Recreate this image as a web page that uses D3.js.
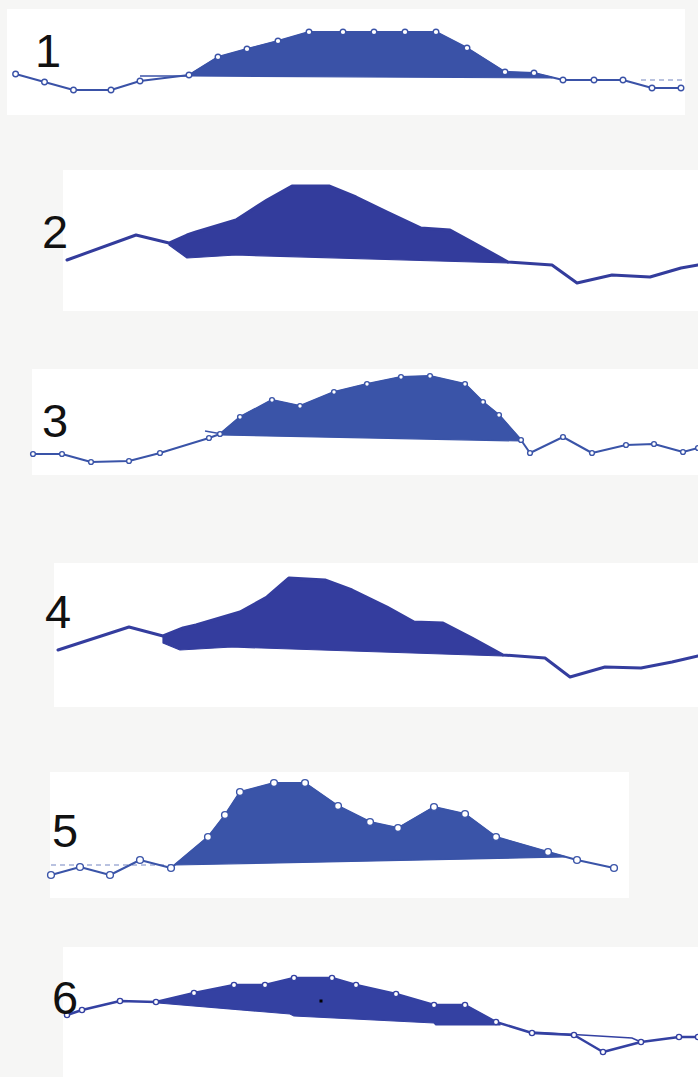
<!DOCTYPE html>
<html>
<head>
<meta charset="utf-8">
<script src="https://cdn.jsdelivr.net/npm/d3@7"></script>
<style>
  html, body { margin: 0; padding: 0; background: #f6f6f5; }
  svg { display: block; }
</style>
</head>
<body>
<svg id="fig" width="698" height="1077"></svg>
<script>
// Section numbers
const sectionLabels = ["1", "2", "3", "4", "5", "6"];

// Section 1: distance along transect and relative elevation
const dist1 = [1.56, 4.45, 7.35, 11.1, 14.0, 18.9, 21.8, 24.7, 27.8, 30.9, 34.3, 37.4, 40.5, 43.6, 46.7, 50.5, 53.4, 56.3, 59.4, 62.3, 65.2, 68.1];
const elev1 = [41, 33, 25, 25, 34, 40, 58, 66, 74, 83, 83, 83, 83, 83, 67, 43, 42, 35, 35, 35, 27, 27];
const baseDist1 = [18.9, 55.2];
const baseElev1 = [39, 37];

// Section 2
const dist2 = [6.7, 13.6, 16.9, 18.7, 19.6, 23.6, 26.7, 29.2, 32.9, 35.6, 38.7, 42.1, 45.0, 47.2, 50.8, 55.2, 57.7, 61.2, 65.0, 68.1, 69.8];
const elev2 = [51, 76, 68, 76, 79, 91, 111, 125, 125, 114, 99, 83, 81, 69, 49, 46, 28, 36, 34, 43, 46];
const baseDist2 = [16.9, 18.7, 23.6, 50.8];
const baseElev2 = [66, 53, 56, 48];

// Section 3
const dist3 = [3.3, 6.2, 9.1, 12.9, 16.0, 20.9, 22.0, 24.0, 27.2, 30.0, 33.4, 36.7, 40.1, 43.0, 46.5, 48.3, 49.9, 52.1, 53.0, 56.3, 59.2, 62.6, 65.4, 68.3, 69.8];
const elev3 = [21, 21, 13, 14, 22, 37, 41, 58, 75, 69, 83, 91, 98, 99, 91, 73, 60, 35, 22, 38, 22, 30, 31, 23, 27];
const baseDist3 = [22.0, 52.1];
const baseElev3 = [40, 34];

// Section 4
const dist4 = [5.8, 12.9, 16.3, 18.3, 19.6, 24.0, 26.7, 28.9, 32.5, 35.2, 38.7, 41.4, 44.3, 47.2, 50.3, 54.5, 57.0, 60.5, 64.1, 67.2, 69.8];
const elev4 = [57, 80, 71, 79, 82, 95, 110, 129, 127, 117, 100, 85, 84, 69, 52, 49, 30, 40, 39, 45, 51];
const baseDist4 = [16.3, 18.0, 23.2, 50.3];
const baseElev4 = [64, 57, 60, 51];

// Section 5
const dist5 = [5.1, 8.0, 11.0, 14.0, 17.1, 20.8, 22.5, 24.0, 27.4, 30.5, 33.8, 37.0, 39.8, 43.4, 46.5, 49.6, 54.8, 57.7, 61.4];
const elev5 = [23, 31, 23, 38, 30, 61, 83, 106, 115, 115, 92, 76, 70, 91, 84, 61, 46, 38, 30];
const baseDist5 = [17.5, 56.5];
const baseElev5 = [33, 41];

// Section 6
const dist6 = [6.7, 8.2, 12.0, 15.6, 19.4, 23.4, 26.5, 29.4, 33.2, 35.6, 39.6, 43.4, 46.5, 49.6, 53.2, 57.4, 60.3, 64.1, 67.9, 69.8];
const elev6 = [62, 67, 76, 75, 84, 92, 92, 99, 99, 92, 83, 72, 72, 55, 44, 42, 25, 35, 40, 40];
const baseDist6 = [15.8, 29.0, 29.4, 43.4, 43.6, 50.0];
const baseElev6 = [74, 63, 61, 54, 52, 52];
const branchDist6 = [53.2, 63.2, 64.1];
const branchElev6 = [45, 39, 35];
const spotDist6 = [32.1];
const spotElev6 = [76];

// Reference chords drawn beside the shaded bodies
const chordDist1 = [14.0, 18.9];
const chordElev1 = [39, 39];
const dashDist1 = [64.1, 68.4];
const dashElev1 = [35, 35];
const chordDist3 = [20.5, 22.2];
const chordElev3 = [44, 41];
const dashDist5 = [5.1, 17.5];
const dashElev5 = [33, 33];

const zip = (d, e) => d.map((v, i) => ({ d: v, e: e[i] }));

// Layout and styling for each section panel
const sections = [
  { label: sectionLabels[0], profile: zip(dist1, elev1), base: zip(baseDist1, baseElev1),
    rect: [7, 9, 678, 106], bottom: 115, lx: 35, ly: 67,
    color: "#3a52a7", lineW: 2, marker: 2.8,
    chords: [zip(chordDist1, chordElev1)], dashes: [zip(dashDist1, dashElev1)] },
  { label: sectionLabels[1], profile: zip(dist2, elev2), base: zip(baseDist2, baseElev2),
    rect: [63, 170, 635, 141], bottom: 311, lx: 42, ly: 248,
    color: "#333c9c", lineW: 3, marker: 0, chords: [], dashes: [] },
  { label: sectionLabels[2], profile: zip(dist3, elev3), base: zip(baseDist3, baseElev3),
    rect: [32, 369, 666, 106], bottom: 475, lx: 42, ly: 437,
    color: "#3a54a8", lineW: 2, marker: 2.4,
    chords: [zip(chordDist3, chordElev3)], dashes: [] },
  { label: sectionLabels[3], profile: zip(dist4, elev4), base: zip(baseDist4, baseElev4),
    rect: [54, 563, 644, 144], bottom: 707, lx: 45, ly: 628,
    color: "#343d9e", lineW: 3, marker: 0, chords: [], dashes: [] },
  { label: sectionLabels[4], profile: zip(dist5, elev5), base: zip(baseDist5, baseElev5),
    rect: [50, 772, 579, 126], bottom: 898, lx: 52, ly: 847,
    color: "#3a54a8", lineW: 2, marker: 3.4,
    chords: [], dashes: [zip(dashDist5, dashElev5)] },
  { label: sectionLabels[5], profile: zip(dist6, elev6), base: zip(baseDist6, baseElev6),
    rect: [63, 947, 635, 130], bottom: 1077, lx: 52, ly: 1014,
    color: "#3441a2", lineW: 2.5, marker: 2.6,
    chords: [zip(branchDist6, branchElev6)], dashes: [],
    spots: zip(spotDist6, spotElev6) }
];

const svg = d3.select("#fig");
const x = d3.scaleLinear().domain([0, 69.8]).range([0, 698]);

// profile elevation at a given distance (linear between stations)
function elevAt(profile, t) {
  for (let i = 0; i < profile.length - 1; i++) {
    const a = profile[i], b = profile[i + 1];
    if (t >= a.d && t <= b.d) return a.e + (b.e - a.e) * (t - a.d) / (b.d - a.d);
  }
  return profile[profile.length - 1].e;
}

sections.forEach(s => {
  const g = svg.append("g");
  const y = d3.scaleLinear().domain([0, 100]).range([s.bottom, s.bottom - 100]);
  const line = d3.line().x(p => x(p.d)).y(p => y(p.e));

  g.append("rect")
    .attr("x", s.rect[0]).attr("y", s.rect[1])
    .attr("width", s.rect[2]).attr("height", s.rect[3])
    .attr("fill", "#ffffff");

  // shaded body: profile between the ends of the base, closed along the base
  const xa = s.base[0].d, xb = s.base[s.base.length - 1].d;
  const top = [{ d: xa, e: elevAt(s.profile, xa) }]
    .concat(s.profile.filter(p => p.d > xa && p.d < xb))
    .concat([{ d: xb, e: elevAt(s.profile, xb) }]);
  const poly = top.concat(s.base.slice().reverse());
  g.append("path")
    .attr("d", line(poly) + "Z")
    .attr("fill", s.color)
    .attr("stroke", s.color)
    .attr("stroke-width", 1.2)
    .attr("stroke-linejoin", "round");

  s.chords.forEach(c => {
    g.append("path").attr("d", line(c))
      .attr("fill", "none").attr("stroke", s.color).attr("stroke-width", 1.5);
  });
  s.dashes.forEach(c => {
    g.append("path").attr("d", line(c))
      .attr("fill", "none").attr("stroke", s.color).attr("stroke-width", 1.2)
      .attr("stroke-dasharray", "5,4").attr("opacity", 0.7);
  });

  g.append("path")
    .attr("d", line(s.profile))
    .attr("fill", "none")
    .attr("stroke", s.color)
    .attr("stroke-width", s.lineW)
    .attr("stroke-linejoin", "round")
    .attr("stroke-linecap", "round");

  if (s.marker > 0) {
    g.selectAll("circle.m").data(s.profile).join("circle")
      .attr("class", "m")
      .attr("cx", p => x(p.d)).attr("cy", p => y(p.e))
      .attr("r", s.marker)
      .attr("fill", "#ffffff")
      .attr("stroke", s.color)
      .attr("stroke-width", 1.4);
  }

  (s.spots || []).forEach(p => {
    g.append("rect")
      .attr("x", x(p.d) - 1.5).attr("y", y(p.e) - 1.5)
      .attr("width", 3).attr("height", 3)
      .attr("fill", "#000000");
  });

  g.append("text")
    .attr("x", s.lx).attr("y", s.ly)
    .attr("font-family", "'Liberation Sans', Arial, sans-serif")
    .attr("font-size", 47)
    .attr("fill", "#111111")
    .text(s.label);
});
</script>
</body>
</html>
